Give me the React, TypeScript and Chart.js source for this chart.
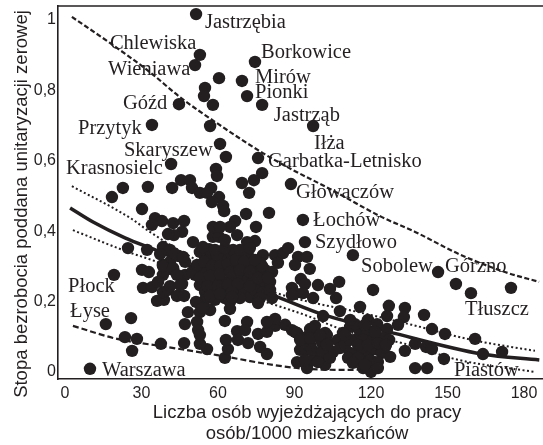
import React, { useEffect, useRef } from "react";
import { Chart, registerables } from "chart.js";

Chart.register(...registerables);

const ink = "#231f20";

const xTickValues = [0, 30, 60, 90, 120, 150, 180];
const yTickValues = [0, 0.2, 0.4, 0.6, 0.8, 1];

const xTitleLines = ["Liczba osób wyjeżdżających do pracy", "osób/1000 mieszkańców"];
const yTitle = "Stopa bezrobocia poddana unitaryzacji zerowej";

const upperPoints = [
  [51.4,1.017],[52.9,.901],[51,.872],[60.4,.835],[69.4,.827],[74.5,.881],[54.9,.807],[54.5,.784],[58,.759],[71.4,.784],
  [77.3,.759],[44.7,.761],[34.1,.702],[56.9,.699],[60.8,.648],[63.1,.611],[75.7,.608],[77.3,.565],[74.1,.545],[69.4,.537],
  [72.2,.509],[41.6,.591],[59.2,.577],[59.6,.557],[45.5,.545],[49,.545],[49.8,.523],[52.9,.509],[57.3,.523],[55.7,.509],
  [60.4,.497],[57.6,.483],[62,.472],[62.4,.457],[42,.523],[32.5,.526],[22.7,.523],[18.4,.497],[30.2,.463],[66.7,.429],
  [71,.449],[80,.452],[97.3,.699],[88.6,.534],[93.3,.432],[94.1,.369],[112.9,.332],[146.3,.284],[153.3,.25],[159.2,.224],
  [174.9,.239],
  [35.3,.437],[38,.429],[34.1,.418],[42.4,.423],[46.7,.429],[45.9,.398],[42.7,.389],[40.4,.392],[50.2,.369],[64.7,.412],
  [67.5,.389],[71.4,.369],[74.9,.412],[74.5,.372],
];

const centralPoints = [
  [52.9,.304],[56.1,.324],[59.2,.313],[62.7,.324],[65.5,.332],[68.6,.318],[71.8,.33],[51,.276],[54.9,.284],[58.8,.284],
  [62.7,.29],[66.7,.295],[70.6,.29],[52.9,.247],[56.9,.256],[60.8,.261],[64.7,.261],[68.6,.267],[71.8,.261],[54.9,.227],
  [58.8,.227],[62.7,.233],[66.7,.239],[70.6,.233],[72.5,.213],[58.8,.205],[62.7,.21],[68.6,.21],[54.9,.205],[47.1,.313],
  [44.3,.33],[41.2,.313],[38.4,.355],[41.2,.347],[43.1,.335],[46.3,.327],[38.4,.304],[42.4,.29],[47.1,.276],[49.8,.284],
  [51.8,.304],[52.9,.341],[56.5,.349],[59.6,.332],[58,.384],[60.4,.384],[58,.412],[60.8,.412],[54.1,.355],[65.9,.347],
  [70.6,.347],[71.8,.361],[70.6,.335],[77.6,.332],[76.5,.31],[73.7,.298],[75.3,.281],[78.4,.29],[81.2,.284],[73.7,.256],
  [77.3,.253],[80.4,.256],[74.5,.233],[77.6,.227],[80.4,.233],[76.5,.21],[82.4,.332],[83.5,.31],[85.5,.338],[87.5,.352],
  [91.4,.327],[94.9,.327],[90.2,.304],[96,.293],[92.5,.264],[94.1,.25],[89,.239],[90.2,.224],[93.3,.224],[97.3,.21],
  [89,.219],[81.2,.21],[75.7,.196],[64.7,.199],[64.7,.179],
  [54.5,.313],[57.6,.301],[60.8,.301],[63.9,.307],[67.1,.318],[70.2,.313],[52.9,.267],[56.9,.273],[60.8,.278],[64.7,.284],
  [68.6,.29],[72.5,.284],[55.9,.244],[60,.244],[63.9,.247],[67.8,.25],[72.5,.244],[75.7,.267],[79.6,.267],[77.3,.301],
  [74.5,.318],[56.9,.216],[60.8,.222],[65.5,.227],[58.8,.347],[62.7,.352],[68.6,.347],[72.5,.352],[62.7,.375],
];

const leftPoints = [
  [25.9,.153],[16,.136],[19.2,.276],[23.5,.099],[28.2,.094],[26.3,.06],[37.6,.08],[46.7,.082],[9.8,.009],[55.7,.065],
  [52.9,.08],[62.7,.04],[63.9,.065],[63.1,.091],[62.7,.145],[48.2,.17],[47,.136],[30.6,.239],[34.1,.241],[30.2,.29],
  [32.9,.284],[24.7,.352],[32.2,.347],[37.3,.335],[36.1,.202],[38.8,.205],[38.4,.227],[40.4,.233],[43.9,.216],[46.7,.216],
  [38.4,.276],[36.5,.256],[45.9,.25],[38.4,.301],[42.4,.295],[43.9,.276],[41.2,.244],[45.1,.247],
];

const lowerPoints = [
  [51.4,.199],[52.9,.17],[56.9,.176],[54.1,.182],[51.8,.142],[52.2,.119],[52.9,.105],[65.5,.213],[71.4,.142],[67.5,.116],
  [70.6,.119],[67.8,.091],[71.8,.082],[75.7,.108],[79.2,.114],[76.5,.071],[79.2,.051],[82.4,.131],[82.4,.151],[86.3,.134],
  [79.2,.142],[89,.119],[90.2,.114],[91,.111],[92.9,.097],[92.2,.063],[91,.028],[94.9,.011],[96.1,.077],[98,.054],
  [100.8,.082],[100,.043],[102,.02],[97.3,.034],[94.1,.063],[98.8,.1],[94.9,.1],[102,.111],[98,.131],[96.1,.122],
  [102.7,.105],[103.1,.082],[107,.091],[105.1,.057],[107.8,.068],[101.2,.159],[107.8,.173],[115.7,.185],[118.8,.148],[122.4,.136],
  [126.3,.159],[127,.188],[133.3,.182],[132.9,.156],[130.6,.134],[126.3,.122],[111.8,.128],[109,.111],[115.7,.114],[113.7,.091],
  [118.8,.114],[116.9,.091],[120.8,.091],[124.7,.097],[127.1,.091],[122.7,.063],[119.6,.063],[115.7,.063],[111.8,.054],[111,.04],
  [114.9,.034],[118.8,.04],[121.6,.028],[124.3,.054],[127.5,.043],[133.3,.06],[116.9,.011],[120,0],[137.3,.08],[141.6,.071],
  [143.9,.065],[137.3,.011],[142,.011],[148.6,.037],[143.9,.122],[149,.108],[160.8,.094],[163.9,.051],[171.4,.057],[140.8,.162],
  [99.2,.247],[103.9,.236],[107.5,.256],[106.3,.21],[120.8,.233],
  [109.8,.077],[111.8,.091],[109.8,.105],[114.9,.077],[118.8,.077],[122.7,.082],[125.5,.071],[113.7,.136],[117.6,.134],[121.6,.114],
  [114.9,.04],[119.6,.034],[122.7,.028],[112.9,.026],[117.6,.02],[122.7,.011],[125.9,.077],[111.8,.148],
  [92.2,.091],[96.1,.097],[100,.105],[94.1,.034],[96.9,.063],[100.8,.057],[103.9,.04],[99.2,.028],[102.7,.077],
];

const upperDashed = [[2.7,1.009],[17.6,.935],[33.3,.852],[45.1,.781],[59.6,.707],[77.6,.622],[87.8,.58],[104.7,.517],[124.3,.44],[137.3,.398],[154.5,.335],[172.5,.284],[185.9,.256]];
const regression = [[2,.466],[11,.426],[23.5,.381],[37.3,.341],[52.9,.29],[81.2,.219],[101.6,.162],[127,.114],[163.5,.051],[186,.034]];
const upperDotted = [[2.7,.528],[25.5,.438],[33.3,.398],[51.8,.318],[65.5,.28],[83.1,.224],[99.6,.193],[111.4,.176],[136,.134],[159.6,.091],[184.3,.06]];
const lowerDotted = [[3.1,.403],[24.7,.341],[36,.313],[56.9,.247],[81.2,.193],[94.1,.162],[111.4,.114],[133.3,.08],[154.5,.034],[184.3,0]];
const lowerDashed = [[3.1,.131],[20.4,.094],[40,.071],[59.6,.048],[81.6,.02],[94.1,.009],[112.5,.006],[121.6,.011]];

const placeNames = ["Jastrzębia","Chlewiska","Wieniawa","Borkowice","Mirów","Pionki","Góźd","Jastrząb","Przytyk","Iłża","Skaryszew","Garbatka-Letnisko","Krasnosielc","Głowaczów","Łochów","Szydłowo","Sobolew","Górzno","Tłuszcz","Piastów","Płock","Łyse","Warszawa"];
const placeX = [54.9,17.6,16.9,76.9,74.5,74.5,22.7,81.9,5.1,97.6,23.1,79.6,.4,90.6,97.3,98,116.1,149.0,156.9,152.5,1.2,2,14.5];
const placeY = [.977,.918,.844,.892,.821,.778,.747,.713,.676,.634,.614,.582,.562,.494,.415,.352,.284,.284,.162,-.011,.227,.156,-.011];

const toXY = (rows: number[][]) => rows.map(([x, y]) => ({ x, y }));

const clearPadding = (s: any) => {
  s.paddingTop = 0;
  s.paddingBottom = 0;
  s.paddingLeft = 0;
  s.paddingRight = 0;
};

const decorations = {
  id: "decorations",
  afterDatasetsDraw(chart: any) {
    const { ctx, chartArea, scales } = chart;
    ctx.save();
    ctx.strokeStyle = ink;
    ctx.lineWidth = 1.6;
    ctx.beginPath();
    ctx.moveTo(chartArea.left, chartArea.top);
    ctx.lineTo(chartArea.right, chartArea.top);
    ctx.stroke();

    ctx.fillStyle = ink;
    ctx.font = '20.5px "Liberation Serif"';
    ctx.textAlign = "left";
    ctx.textBaseline = "alphabetic";
    placeNames.forEach((name, i) => {
      ctx.fillText(name, scales.x.getPixelForValue(placeX[i]), scales.y.getPixelForValue(placeY[i]));
    });

    ctx.font = '18.5px "Liberation Sans"';
    ctx.textAlign = "center";
    xTitleLines.forEach((line, i) => ctx.fillText(line, 307, 418 + i * 21));

    ctx.translate(27, 204);
    ctx.rotate(-Math.PI / 2);
    ctx.fillText(yTitle, 0, 0);
    ctx.restore();
  },
};

export default function App() {
  const ref = useRef<HTMLCanvasElement>(null);
  useEffect(() => {
    document.body.style.margin = "0";
    const tickFont = { family: '"Liberation Sans"', size: 16 };
    const line = (data: number[][], width: number, dash: number[]) => ({
      type: "line" as const,
      data: toXY(data),
      borderColor: ink,
      borderWidth: width,
      borderDash: dash,
      pointRadius: 0,
      fill: false,
      cubicInterpolationMode: "monotone" as const,
    });
    const chart = new Chart(ref.current!, {
      type: "scatter",
      data: {
        datasets: [
          {
            data: toXY([...upperPoints, ...centralPoints, ...leftPoints, ...lowerPoints]),
            backgroundColor: ink,
            borderColor: ink,
            borderWidth: 0,
            pointRadius: 6.2,
          },
          line(upperDashed, 2.2, [5, 2.5]),
          line(regression, 3.5, []),
          line(upperDotted, 2, [2, 2.5]),
          line(lowerDotted, 2, [2, 2.5]),
          line(lowerDashed, 2.2, [6, 3]),
        ],
      },
      options: {
        animation: false,
        responsive: false,
        layout: { autoPadding: false, padding: { top: 6, right: 0, left: 0, bottom: 0 } },
        plugins: { legend: { display: false }, tooltip: { enabled: false } },
        scales: {
          x: {
            type: "linear",
            min: -2.75,
            max: 187.45,
            grid: { display: false, drawTicks: false },
            border: { display: true, color: ink, width: 1.6 },
            afterBuildTicks: (s: any) => { s.ticks = xTickValues.map((value) => ({ value })); },
            afterFit: (s: any) => { s.height = 66; clearPadding(s); },
            ticks: { color: ink, font: tickFont, padding: 5, maxRotation: 0, autoSkip: false, callback: (v: any) => String(v) },
          },
          y: {
            type: "linear",
            min: -0.02,
            max: 1.04,
            grid: { display: false, drawTicks: false },
            border: { display: true, color: ink, width: 1.6 },
            afterBuildTicks: (s: any) => { s.ticks = yTickValues.map((value) => ({ value })); },
            afterFit: (s: any) => { s.width = 58; clearPadding(s); },
            ticks: { color: ink, font: tickFont, padding: 2, autoSkip: false, callback: (v: any) => String(v).replace(".", ",") },
          },
        },
      },
      plugins: [decorations],
    });
    return () => chart.destroy();
  }, []);
  return <canvas ref={ref} width={543} height={445} style={{ display: "block" }} />;
}
